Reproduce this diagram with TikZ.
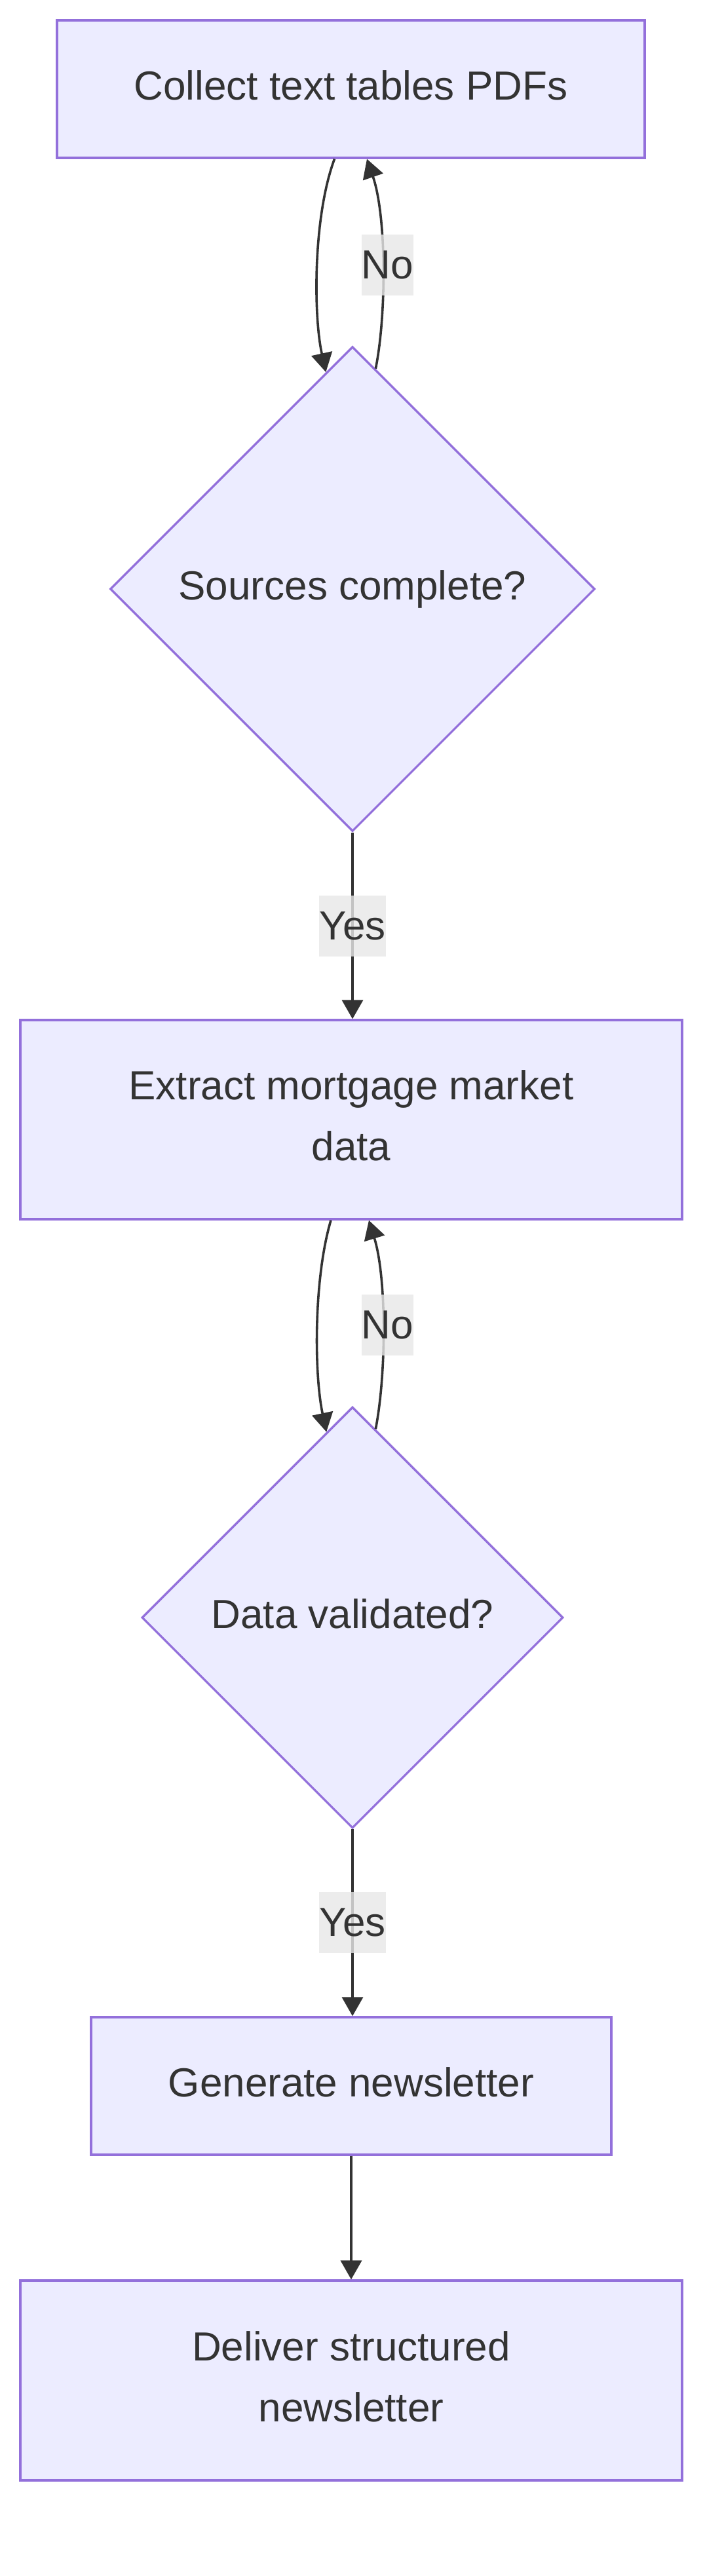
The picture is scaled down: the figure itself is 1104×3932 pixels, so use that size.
\documentclass[tikz,border=0pt]{standalone}
\usepackage{fontspec}
\setmainfont{Liberation Sans}
\usetikzlibrary{shapes.geometric,arrows.meta,calc}
\definecolor{nodefill}{HTML}{ECECFF}
\definecolor{nodeline}{HTML}{9370DB}
\definecolor{edgeline}{HTML}{333333}
\definecolor{txt}{HTML}{333333}
\definecolor{lblbg}{HTML}{E8E8E8}
\begin{document}
\begin{tikzpicture}[x=1pt,y=-1pt,
  box/.style={draw=nodeline, fill=nodefill, line width=3.3pt, inner sep=0pt, text=txt, align=center, font=\fontsize{62}{93}\selectfont, execute at end node={\vphantom{g}}},
  dec/.style={box, diamond, aspect=1},
  edge/.style={draw=edgeline, line width=3.6pt, -{Triangle[length=29pt,width=32pt]}},
  lbl/.style={fill=lblbg, fill opacity=0.8, text opacity=1, text=txt, inner xsep=0pt, inner ysep=0pt, minimum height=93pt, font=\fontsize{62}{93}\selectfont}
]
\useasboundingbox (0,0) rectangle (1104,3932);
\fill[white] (0,0) rectangle (1104,3932);

\node[box, minimum width=897pt, minimum height=210pt] (b1) at (535.5,136) {Collect text tables PDFs};
\node[dec, minimum width=740pt, minimum height=740pt] (d1) at (538,899) {Sources complete?};
\node[box, minimum width=1010pt, minimum height=304pt] (b2) at (536,1709) {Extract mortgage market\\data};
\node[dec, minimum width=643pt, minimum height=643pt] (d2) at (538,2469) {Data validated?};
\node[box, minimum width=794pt, minimum height=210pt] (b3) at (536,3184) {Generate newsletter};
\node[box, minimum width=1010pt, minimum height=305pt] (b4) at (536,3633.5) {Deliver structured\\newsletter};

\draw[edge] ($(b1.south)+(-25,0)$) .. controls (478,330) and (478,480) .. (d1.97);
\draw[edge] (d1.84) .. controls (590,480) and (590,330) .. node[lbl, xshift=7pt] {No} ($(b1.south)+(24.5,0)$);
\draw[edge] (d1.south) -- node[lbl] {Yes} (d1.south |- b2.north);

\draw[edge] ($(b2.south)+(-31,0)$) .. controls (479,1950) and (479,2095) .. (d2.98);
\draw[edge] (d2.83) .. controls (590,2095) and (590,1950) .. node[lbl, xshift=7pt] {No} ($(b2.south)+(27,0)$);
\draw[edge] (d2.south) -- node[lbl] {Yes} (d2.south |- b3.north);

\draw[edge] (b3.south) -- (b4.north);
\end{tikzpicture}
\end{document}
